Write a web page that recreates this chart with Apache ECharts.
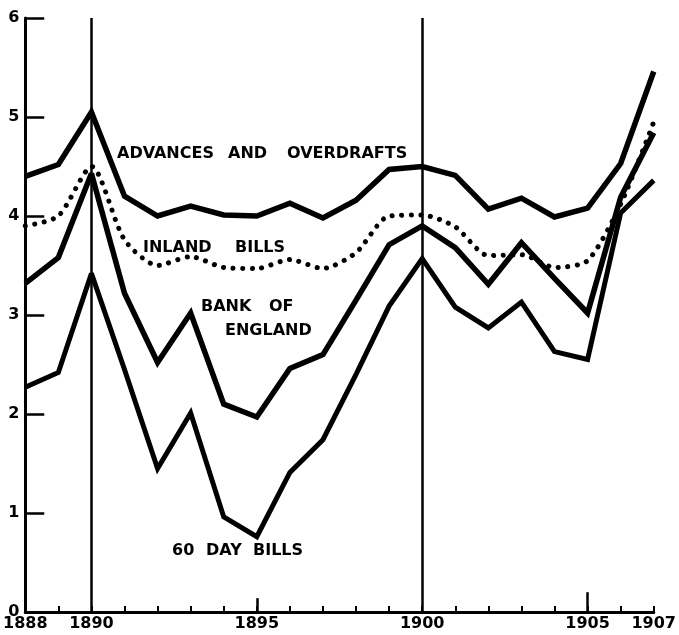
<!DOCTYPE html>
<html><head><meta charset="utf-8">
<script src="https://cdn.jsdelivr.net/npm/echarts@6/dist/echarts.min.js"></script>
<style>html,body{margin:0;padding:0;background:#fff}#c{width:679px;height:635px}</style>
</head><body><div id="c"></div>
<script>
const years = [1888,1889,1890,1891,1892,1893,1894,1895,1896,1897,1898,1899,1900,1901,1902,1903,1904,1905,1906,1907];
const advances = [4.40,4.52,5.05,4.20,4.00,4.10,4.01,4.00,4.13,3.98,4.16,4.47,4.50,4.41,4.07,4.18,3.99,4.08,4.53,5.46];
const inlandBills = [3.90,4.00,4.50,3.76,3.50,3.59,3.48,3.47,3.56,3.47,3.63,4.00,4.01,3.89,3.60,3.61,3.48,3.55,4.12,4.95];
const bankOfEngland = [3.32,3.58,4.43,3.22,2.52,3.02,2.10,1.97,2.46,2.60,3.15,3.71,3.90,3.68,3.31,3.73,3.37,3.02,4.19,4.84];
const sixtyDayBills = [2.27,2.42,3.42,2.45,1.45,2.01,0.96,0.76,1.41,1.74,2.40,3.09,3.57,3.08,2.87,3.13,2.63,2.55,4.03,4.36];
const xTickLabels = [1888,1890,1895,1900,1905,1907];
const fullLineYears = [1890,1900];
const seriesNames = ['ADVANCES AND OVERDRAFTS','INLAND BILLS','BANK OF ENGLAND','60 DAY BILLS'];

const chart = echarts.init(document.getElementById('c'));
const pair = arr => years.map((y,i)=>[y, arr[i]]);
const FONT = '"DejaVu Sans", sans-serif';
const solid = w => ({color:'#000', width:w, join:'miter', miterLimit:3, cap:'butt'});
const word = (t, x, y) => ({type:'text', left:x, top:y, silent:true,
  style:{text:t, fill:'#000', font:'bold 16px ' + FONT}});

chart.setOption({
  animation:false,
  backgroundColor:'#fff',
  grid:{left:22, right:25, top:18, bottom:23, containLabel:false},
  xAxis:{type:'value', min:1888, max:1907, interval:1,
    axisLine:{show:true, lineStyle:{color:'#000', width:3}},
    axisTick:{show:true, inside:true, length:6, lineStyle:{color:'#000', width:2}},
    axisLabel:{show:true, margin:4, color:'#000', fontFamily:FONT, fontWeight:'bold', fontSize:16,
      showMinLabel:true, showMaxLabel:true,
      formatter:v => xTickLabels.indexOf(v) >= 0 ? String(v) : ''},
    splitLine:{show:false}},
  yAxis:{type:'value', min:0, max:6, interval:1,
    axisLine:{show:true, lineStyle:{color:'#000', width:3}},
    axisTick:{show:true, inside:true, length:19, lineStyle:{color:'#000', width:2.5}},
    axisLabel:{show:true, margin:6, color:'#000', fontFamily:FONT, fontWeight:'bold', fontSize:16,
      padding:[0,0,8,0]},
    splitLine:{show:false}},
  series:[
    {name:seriesNames[0], type:'line', data:pair(advances), showSymbol:false, lineStyle:solid(5.5), z:3,
      markLine:{silent:true, symbol:['none','none'], label:{show:false},
        lineStyle:{type:'solid', color:'#000', width:2.5},
        data:[
          ...fullLineYears.map(y => ({xAxis:y})),
          [{coord:[1895,0]},{coord:[1895,0.14]}],
          [{coord:[1905,0]},{coord:[1905,0.2]}]
        ]}},
    {name:seriesNames[1], type:'line', data:pair(inlandBills), showSymbol:false, smooth:0.25,
      lineStyle:{color:'#000', width:5, type:[0.1,9.5], cap:'round'}, z:3},
    {name:seriesNames[2], type:'line', data:pair(bankOfEngland), showSymbol:false, lineStyle:solid(5.5), z:3},
    {name:seriesNames[3], type:'line', data:pair(sixtyDayBills), showSymbol:false, lineStyle:solid(5), z:3}
  ],
  graphic:[
    word('ADVANCES', 117, 146), word('AND', 228, 146), word('OVERDRAFTS', 287, 146),
    word('INLAND', 143, 240), word('BILLS', 235, 240),
    word('BANK', 201, 299), word('OF', 269, 299),
    word('ENGLAND', 225, 323),
    word('60', 172, 543), word('DAY', 206, 543), word('BILLS', 253, 543)
  ]
});
</script></body></html>
